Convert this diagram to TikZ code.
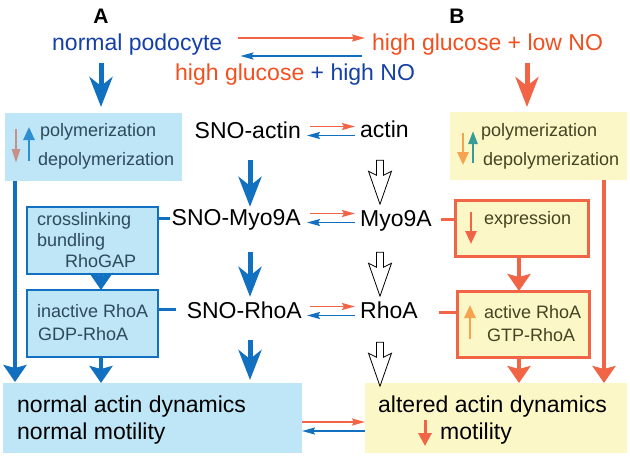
\documentclass[tikz,border=0pt]{standalone}
\usepackage{fontspec}
\setmainfont{Liberation Sans}
\usetikzlibrary{arrows.meta,calc}
\definecolor{lblue}{HTML}{BEE6F6}
\definecolor{dblue}{HTML}{1170BF}
\definecolor{tblue}{HTML}{1540A8}
\definecolor{lyellow}{HTML}{FCF7C6}
\definecolor{rred}{HTML}{F26446}
\definecolor{tred}{HTML}{F2501E}
\definecolor{boxtxtb}{HTML}{2D4A5C}
\definecolor{boxtxty}{HTML}{444424}
\definecolor{pinkarr}{HTML}{C88E88}
\definecolor{midblue}{HTML}{2E8ED2}
\definecolor{orangearr}{HTML}{F6A24E}
\definecolor{tealarr}{HTML}{3A9C98}
\tikzset{
  big/.style={font=\fontsize{23}{27}\selectfont, inner sep=0pt, text height=16pt, text depth=2pt},
  small/.style={font=\fontsize{18}{21}\selectfont, inner sep=0pt, text height=12.5pt, text depth=1.5pt, anchor=west},
  ttl/.style={font=\bfseries\fontsize{21}{25}\selectfont, inner sep=0pt},
  bbox/.style={fill=lblue, draw=none, inner sep=0pt, anchor=north west, outer sep=0pt},
  bboxb/.style={bbox, draw=dblue, line width=2pt},
  ybox/.style={fill=lyellow, draw=none, inner sep=0pt, anchor=north west, outer sep=0pt},
  yboxr/.style={ybox, draw=rred, line width=3pt},
  thickb/.style={draw=dblue, line width=5pt, -{Stealth[length=30pt,width=23pt,inset=9pt]}},
  thickr/.style={draw=rred, line width=5pt, -{Stealth[length=30pt,width=23pt,inset=9pt]}},
  boxb/.style={draw=dblue, line width=4.5pt, -{Stealth[length=17pt,width=23pt,inset=3pt]}},
  boxr/.style={draw=rred, line width=4.5pt, -{Stealth[length=17pt,width=23pt,inset=3pt]}},
  thinr/.style={draw=rred, line width=1.8pt, -{Stealth[length=13pt,width=7pt,inset=2pt]}},
  thinb/.style={draw=dblue, line width=1.8pt, -{Stealth[length=13pt,width=7pt,inset=2pt]}},
  stubb/.style={draw=dblue, line width=3pt},
  stubr/.style={draw=rred, line width=3pt},
  inarr/.style={line width=2.5pt, -{Triangle[length=13pt,width=11pt]}},
  hollow/.pic={\draw[black, line width=0.8pt, fill=white, line join=miter]
     (-3.5,0) -- (-3.5,15) -- (-11.5,11) -- (0,44) -- (11.5,11) -- (3.5,15) -- (3.5,0) -- cycle;}
}
\begin{document}
\begin{tikzpicture}[x=1pt,y=-1pt]
\useasboundingbox (0,0) rectangle (630,456);
\fill[white] (0,0) rectangle (630,456);

% column coordinates
\coordinate (colA) at (250,0);
\coordinate (colH) at (380,0);
\coordinate (colL) at (15,0);
\coordinate (colR) at (604,0);
\coordinate (colA2) at (101,0);
\coordinate (colB2) at (519,0);

% titles
\node[ttl] (labA) at (101,16) {A};
\node[ttl] (labB) at (457,16) {B};
\node[big, text=tblue, anchor=west] (np) at (52,43) {normal podocyte};
\node[big, text=tred, anchor=west] (hglow) at (372,43) {high glucose + low NO};
\node[big, anchor=west] (hghigh) at (175,73) {\textcolor{tred}{high glucose} \textcolor{tblue}{+ high NO}};

\draw[thinr] ([xshift=16pt,yshift=5pt]np.east) -- ([xshift=-7pt,yshift=5pt]hglow.west);
\draw[thinb] ([xshift=-10pt,yshift=-13pt]hglow.west) -- ([xshift=18pt,yshift=-13pt]np.east);

% boxes
\node[bbox, minimum width=177pt, minimum height=68pt] (A1) at (5,113) {};
\node[ybox, minimum width=177pt, minimum height=68pt] (B1) at (450,112) {};
\node[bboxb, minimum width=131pt, minimum height=67pt] (A2) at (27,207) {};
\node[yboxr, minimum width=133pt, minimum height=56pt] (B2) at (455,200) {};
\node[bboxb, minimum width=131pt, minimum height=67pt] (A3) at (27,290) {};
\node[yboxr, minimum width=132pt, minimum height=66pt] (B3) at (457,291) {};
\node[bbox, minimum width=299pt, minimum height=70pt] (A4) at (3,383) {};
\node[ybox, minimum width=262pt, minimum height=70pt] (B4) at (365,383) {};

% top arrows
\coordinate (a0) at (101,63);
\coordinate (b0) at (527,63);
\draw[thickb, shorten >=6pt] (a0) -- (a0 |- A1.north);
\draw[thickr, shorten >=5pt] (b0) -- (b0 |- B1.north);

% central labels
\node[big, anchor=east] (SNOactin) at (301,131) {SNO-actin};
\node[big, anchor=west] (actin) at (360,130) {actin};
\node[big, anchor=east] (SNOMyo) at (301,218) {SNO-Myo9A};
\node[big, anchor=west] (Myo) at (360,219) {Myo9A};
\node[big, anchor=east] (SNORhoA) at (302,311) {SNO-RhoA};
\node[big, anchor=west] (RhoA) at (360,311) {RhoA};

% exchange arrows
\draw[thinr] ([xshift=9pt,yshift=4.5pt]SNOactin.east) -- ([xshift=-5pt,yshift=4.5pt]SNOactin.east -| actin.west);
\draw[thinb] ([xshift=-5pt,yshift=-4.5pt]SNOactin.east -| actin.west) -- ([xshift=6pt,yshift=-4.5pt]SNOactin.east);
\draw[thinr] ([xshift=9pt,yshift=4.5pt]SNOMyo.east) -- ([xshift=-5pt,yshift=4.5pt]SNOMyo.east -| Myo.west);
\draw[thinb] ([xshift=-5pt,yshift=-4.5pt]SNOMyo.east -| Myo.west) -- ([xshift=6pt,yshift=-4.5pt]SNOMyo.east);
\draw[thinr] ([xshift=8pt,yshift=4.5pt]SNORhoA.east) -- ([xshift=-5pt,yshift=4.5pt]SNORhoA.east -| RhoA.west);
\draw[thinb] ([xshift=-5pt,yshift=-4.5pt]SNORhoA.east -| RhoA.west) -- ([xshift=5pt,yshift=-4.5pt]SNORhoA.east);

% blue column arrows
\draw[thickb, shorten <=20pt, shorten >=2pt] (SNOactin.south -| colA) -- (SNOMyo.north -| colA);
\draw[thickb, shorten <=25pt, shorten >=5pt] (SNOMyo.south -| colA) -- (SNORhoA.north -| colA);
\draw[thickb, shorten <=20pt, shorten >=3pt] (SNORhoA.south -| colA) -- (A4.north -| colA);

% hollow arrows
\pic at ([yshift=-21pt]actin.south -| colH) {hollow};
\pic at ([yshift=-24pt]Myo.south -| colH) {hollow};
\pic at ([yshift=-22pt]RhoA.south -| colH) {hollow};

% stubs
\draw[stubb, shorten >=2pt] (A2.east |- SNOMyo.west) -- (SNOMyo.west);
\draw[stubb, shorten >=11pt] ([yshift=2pt]A3.east |- SNORhoA.west) -- ([yshift=2pt]SNORhoA.west);
\draw[stubr, shorten <=9pt] (Myo.east) -- (B2.west |- Myo.east);
\draw[stubr, shorten <=21pt] ([yshift=-1pt]RhoA.east) -- ([yshift=-1pt]B3.west |- RhoA.east);

% box-to-box arrows
\draw[boxb, shorten >=1pt] (A1.south -| colL) -- (A4.north -| colL);
\draw[boxb] (A2.south -| colA2) -- (A3.north -| colA2);
\draw[boxb] (A3.south -| colA2) -- (A4.north -| colA2);
\draw[boxr] (B1.south -| colR) -- (B4.north -| colR);
\draw[boxr] (B2.south -| colB2) -- (B3.north -| colB2);
\draw[boxr] (B3.south -| colB2) -- (B4.north -| colB2);

% bottom exchange
\draw[thinr] ([yshift=-4pt]A4.east) -- ([yshift=-4pt]B4.west);
\draw[thinb] ([yshift=-13pt]B4.west) -- ([yshift=-13pt]A4.east);

% box texts
\node[small, text=boxtxtb] (A1t1) at (40,131) {polymerization};
\node[small, text=boxtxtb] (A1t2) at (38,160) {depolymerization};
\draw[inarr, pinkarr, -{Triangle[length=14pt,width=8pt]}] ([xshift=11pt,yshift=-16pt]A1.north west) -- ++(0,34);
\draw[inarr, midblue] ([xshift=24pt,yshift=-48pt]A1.north west) -- ++(0,-34);

\node[small, text=boxtxtb] (A2t1) at (37,220) {crosslinking};
\node[small, text=boxtxtb] (A2t2) at (37,241) {bundling};
\node[small, text=boxtxtb] (A2t3) at (65,262) {RhoGAP};

\node[small, text=boxtxtb] (A3t1) at (37,312) {inactive RhoA};
\node[small, text=boxtxtb] (A3t2) at (38,335) {GDP-RhoA};

\node[small, text=boxtxty] (B1t1) at (481,131) {polymerization};
\node[small, text=boxtxty] (B1t2) at (483,160) {depolymerization};
\draw[inarr, orangearr] ([xshift=13pt,yshift=-21pt]B1.north west) -- ++(0,32);
\draw[inarr, tealarr, -{Triangle[length=13pt,width=9pt]}] ([xshift=23pt,yshift=-51pt]B1.north west) -- ++(0,-32);

\node[small, text=boxtxty] (B2t1) at (484,219) {expression};
\draw[inarr, rred] ([xshift=16pt,yshift=-12pt]B2.north west) -- ++(0,32);

\node[small, text=boxtxty] (B3t1) at (484,313) {active RhoA};
\node[small, text=boxtxty] (B3t2) at (487,336) {GTP-RhoA};
\draw[inarr, orangearr] ([xshift=13pt,yshift=-48pt]B3.north west) -- ++(0,-34);

\node[big, anchor=west] (A4t1) at (17,405) {normal actin dynamics};
\node[big, anchor=west] (A4t2) at (17,432) {normal motility};
\node[big, anchor=west] (B4t1) at (378,405) {altered actin dynamics};
\node[big, anchor=west] (B4t2) at (440,432) {motility};
\draw[inarr, rred, line width=3pt, -{Triangle[length=13pt,width=13pt]}] ([xshift=60pt,yshift=-37pt]B4.north west) -- ++(0,26);
\end{tikzpicture}
\end{document}
